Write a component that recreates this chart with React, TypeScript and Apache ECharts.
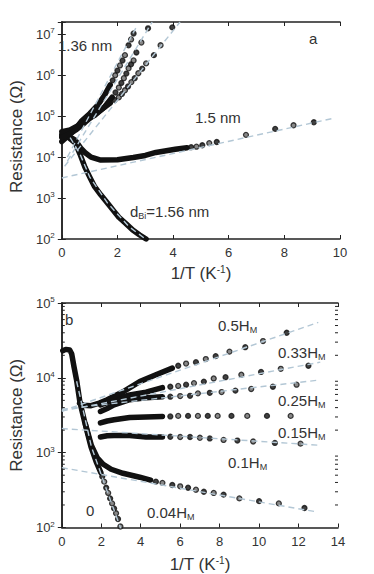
import React, { useEffect, useRef } from "react";
import * as echarts from "echarts";

type P = [number, number];

const FONT = "Liberation Sans";
const INK = "#222";
const FIT = "#b3c7d5";

// ---------- Panel a ----------
const aXTicks = [0, 2, 4, 6, 8, 10];
const aYMin = 100;
const aYMax = 2e7;

const a156Dense: P[] = [
  [0, 3.3e4], [0.25, 3.0e4], [0.49, 2.2e4], [0.65, 1.2e4], [0.83, 5.7e3], [1.0, 3.3e3],
  [1.18, 1.9e3], [1.4, 1.2e3], [1.64, 760], [1.85, 500], [2.05, 340], [2.3, 240],
  [2.55, 165], [2.8, 125], [3.03, 100],
];
const a156Fit: P[] = [[0.3, 3.0e4], [0.65, 1.2e4], [1.0, 3.3e3], [1.64, 760], [2.4, 205], [3.05, 95]];

const a15Dense: P[] = [
  [0, 3.6e4], [0.2, 3.4e4], [0.48, 2.6e4], [0.7, 1.6e4], [0.83, 1.3e4], [1.05, 1.0e4],
  [1.4, 8.5e3], [2.0, 8.6e3], [2.57, 9.8e3], [3.0, 1.1e4], [3.38, 1.3e4], [4.08, 1.55e4], [4.5, 1.7e4],
];
const a15Sparse: P[] = [
  [4.65, 1.75e4], [4.84, 1.8e4], [5.05, 1.95e4], [5.3, 2.2e4], [5.57, 2.34e4],
  [6.62, 3.5e4], [7.67, 4.9e4], [8.33, 6.0e4], [9.06, 7.1e4],
];
const a15Fit: P[] = [[0, 3.1e3], [9.8, 9.0e4]];

const aADense: P[] = [
  [0, 2.4e4], [0.2, 3.2e4], [0.45, 4.5e4], [0.7, 7.5e4], [1.01, 1.17e5], [1.29, 1.86e5],
  [1.53, 3.2e5], [1.74, 5.8e5],
];
const aASparse: P[] = [
  [1.83, 7.5e5], [1.92, 1.0e6], [2.0, 1.3e6], [2.09, 1.74e6], [2.18, 2.3e6], [2.27, 3.1e6],
  [2.4, 5.4e6], [2.49, 7.5e6], [2.58, 1.05e7],
];
const aAFit: P[] = [[0.2, 1.0e4], [2.7, 1.6e7]];

const aBDense: P[] = [
  [0, 4.2e4], [0.3, 4.6e4], [0.6, 6.0e4], [0.9, 8.2e4], [1.18, 1.05e5], [1.53, 1.66e5], [1.81, 2.9e5],
];
const aBSparse: P[] = [
  [1.93, 3.8e5], [2.05, 5.0e5], [2.14, 6.5e5], [2.23, 8.5e5], [2.32, 1.1e6], [2.4, 1.48e6],
  [2.49, 1.85e6], [2.58, 2.3e6], [2.68, 3.6e6], [2.86, 6.3e6], [3.1, 1.4e7],
];
const aBFit: P[] = [[0.2, 8e3], [3.25, 2e7]];

const aDDense: P[] = [
  [0, 3.0e4], [0.25, 3.6e4], [0.5, 4.6e4], [0.83, 7.0e4], [1.05, 9.5e4], [1.4, 1.41e5], [1.74, 2.1e5],
];
const aDSparse: P[] = [
  [1.9, 2.5e5], [2.05, 2.9e5], [2.16, 3.5e5], [2.27, 4.3e5], [2.38, 5.3e5], [2.5, 6.8e5],
  [2.62, 8.5e5], [2.75, 1.12e6], [2.89, 1.45e6], [3.03, 1.95e6], [3.31, 3.1e6], [3.55, 5.4e6],
  [3.97, 1.48e7],
];
const aDFit: P[] = [[0.1, 6e3], [4.25, 2e7]];

// ---------- Panel b ----------
const bXTicks = [0, 2, 4, 6, 8, 10, 12, 14];
const bYMin = 100;
const bYMax = 1e5;
const bMinorTicks = [
  200, 300, 400, 500, 600, 700, 800, 900,
  2000, 3000, 4000, 5000, 6000, 7000, 8000, 9000,
  20000, 30000, 40000, 50000, 60000, 70000, 80000, 90000,
];

const b0Dense: P[] = [
  [0.05, 2.3e4], [0.2, 2.4e4], [0.4, 2.35e4], [0.5, 2.1e4], [0.62, 1.4e4], [0.75, 9.3e3],
  [0.92, 4.7e3], [1.17, 2.5e3], [1.48, 1.2e3], [1.74, 760], [1.98, 540],
];
const b0Sparse: P[] = [
  [2.05, 480], [2.15, 410], [2.25, 340], [2.35, 290], [2.45, 245], [2.55, 210],
  [2.65, 180], [2.75, 155], [2.85, 130], [2.97, 103],
];
const b0Fit: P[] = [[0.75, 9e3], [1.5, 1.2e3], [2.2, 360], [3.0, 95]];

const b004Dense: P[] = [
  [1.2, 2.4e3], [1.5, 1.25e3], [1.8, 850], [2.1, 700], [2.5, 600], [3.1, 530], [3.95, 470], [4.5, 430],
];
const b004Sparse: P[] = [
  [4.77, 410], [5.1, 395], [5.6, 370], [6.0, 355], [6.4, 340], [6.8, 320], [7.2, 300],
  [7.7, 290], [8.2, 275], [9.0, 245], [10.0, 225], [11.0, 210], [12.3, 182],
];
const b004Fit: P[] = [[0, 630], [12.9, 162]];

const b01Dense: P[] = [
  [1.96, 1.62e3], [2.3, 1.68e3], [2.65, 1.7e3], [3.44, 1.7e3], [4.27, 1.62e3], [5.1, 1.62e3],
];
const b01Sparse: P[] = [
  [5.5, 1.63e3], [6.0, 1.62e3], [6.5, 1.62e3], [7.0, 1.58e3], [7.5, 1.55e3], [8.2, 1.48e3],
  [8.9, 1.45e3], [9.7, 1.41e3], [10.8, 1.35e3], [12.1, 1.32e3],
];
const b01Fit: P[] = [[0, 2.1e3], [13, 1.26e3]];

const b015Dense: P[] = [
  [1.96, 2.5e3], [2.3, 2.65e3], [2.65, 2.75e3], [3.44, 2.95e3], [4.27, 3.0e3], [5.1, 3.05e3],
];
const b015Sparse: P[] = [
  [5.5, 3.05e3], [5.9, 3.1e3], [6.4, 3.1e3], [6.9, 3.1e3], [7.4, 3.1e3], [7.9, 3.1e3],
  [8.6, 3.1e3], [9.4, 3.1e3], [10.4, 3.1e3], [11.6, 3.1e3],
];

const b025Dense: P[] = [
  [1.96, 3.55e3], [2.3, 3.9e3], [2.65, 4.35e3], [3.44, 5.1e3], [4.27, 5.4e3], [5.1, 5.6e3],
];
const b025Sparse: P[] = [
  [5.5, 5.6e3], [6.0, 5.7e3], [6.5, 5.75e3], [6.9, 6.2e3], [7.5, 6.3e3], [8.1, 6.45e3],
  [8.8, 6.75e3], [9.6, 7.1e3], [10.7, 7.6e3], [11.9, 8.1e3],
];
const b025Fit: P[] = [[0, 3.8e3], [13, 9.3e3]];

const b033Dense: P[] = [
  [1.96, 4.35e3], [2.3, 4.7e3], [2.65, 5.1e3], [3.44, 5.9e3], [4.27, 6.45e3], [5.1, 7.4e3],
];
const b033Sparse: P[] = [
  [5.5, 7.6e3], [5.9, 7.8e3], [6.3, 8.1e3], [6.7, 8.5e3], [7.2, 8.9e3], [7.7, 9.8e3],
  [8.3, 1.02e4], [9.1, 1.1e4], [10.1, 1.2e4], [11.1, 1.32e4], [12.5, 1.45e4],
];
const b033Fit: P[] = [[0, 3.6e3], [13.1, 1.62e4]];

const b05Dense: P[] = [
  [0.9, 4.6e3], [1.1, 4.3e3], [1.48, 4.25e3], [1.9, 4.6e3], [2.3, 5.1e3], [3.1, 6.5e3],
  [3.95, 8.9e3], [4.77, 1.1e4], [5.6, 1.35e4],
];
const b05Sparse: P[] = [
  [5.9, 1.45e4], [6.3, 1.55e4], [6.8, 1.62e4], [7.3, 1.78e4], [7.8, 1.95e4], [8.5, 2.24e4],
  [9.3, 2.57e4], [10.2, 3.1e4], [11.4, 4.0e4],
];
const b05Fit: P[] = [[0, 3.6e3], [13, 5.5e4]];

// ---------- helpers ----------
const pointColor = (p: any) => (p.dataIndex % 2 ? "#6a6a6a" : "#111");

function dense(data: P[], xi: number) {
  return {
    type: "line", data, xAxisIndex: xi, yAxisIndex: xi, showSymbol: false, symbol: "none",
    lineStyle: { color: "#111", width: 5.5, cap: "round", join: "round" }, z: 3, silent: true,
  };
}
function sparse(data: P[], xi: number) {
  return {
    type: "scatter", data, xAxisIndex: xi, yAxisIndex: xi, symbol: "circle", symbolSize: 5,
    itemStyle: { color: pointColor, borderColor: "#111", borderWidth: 1.3 }, z: 4, silent: true,
  };
}
function fit(data: P[], xi: number) {
  return {
    type: "line", data, xAxisIndex: xi, yAxisIndex: xi, showSymbol: false, symbol: "none",
    lineStyle: { color: FIT, width: 1.4, type: [6, 4] }, z: 5, silent: true,
  };
}

const labelRich = {
  a: { fontSize: 13, fontFamily: FONT, color: "#333" },
  b: { fontSize: 8, fontFamily: FONT, color: "#333", padding: [0, 0, 7, 0] },
};
const logFormatter = (v: number) => {
  const e = Math.log10(v);
  const r = Math.round(e);
  if (Math.abs(e - r) > 1e-6) return "";
  return `{a|10}{b|${r}}`;
};

const nameRich = {
  a: { fontSize: 17, fontFamily: FONT, color: "#333" },
  b: { fontSize: 10, fontFamily: FONT, color: "#333", padding: [0, 0, 8, 0] },
};

function xAxes(ticks: number[], gi: number, nameGap: number) {
  const base = {
    type: "value", gridIndex: gi, min: ticks[0], max: ticks[ticks.length - 1],
    interval: ticks[1] - ticks[0], splitLine: { show: false },
    axisLine: { show: true, onZero: false, lineStyle: { color: INK, width: 1.5 } },
    axisTick: { show: true, inside: true, length: 4, lineStyle: { color: INK } },
  };
  return [
    {
      ...base, position: "bottom",
      axisLabel: { show: true, margin: 7, fontSize: 13, fontFamily: FONT, color: "#333" },
      name: "{a|1/T (K}{b|-1}{a|)}", nameLocation: "middle", nameGap,
      nameTextStyle: { rich: nameRich },
    },
    { ...base, position: "top", axisLabel: { show: false } },
  ];
}
function yAxes(min: number, max: number, gi: number, namePad: number[]) {
  const base = {
    type: "log", logBase: 10, gridIndex: gi, min, max, splitLine: { show: false },
    axisLine: { show: true, lineStyle: { color: INK, width: 1.5 } },
    axisTick: { show: true, inside: true, length: 4, lineStyle: { color: INK } },
    minorTick: { show: false },
  };
  return [
    {
      ...base, position: "left",
      axisLabel: { show: true, margin: 7, formatter: logFormatter, rich: labelRich },
      name: "Resistance (Ω)", nameLocation: "middle", nameGap: 34, nameRotate: 90,
      nameTextStyle: { fontSize: 17, fontFamily: FONT, color: "#333", padding: namePad },
    },
    { ...base, position: "right", axisLabel: { show: false } },
  ];
}

const annRich = {
  a: { fontSize: 15, fontFamily: FONT, fill: "#333" },
  s: { fontSize: 9, fontFamily: FONT, fill: "#333", padding: [10, 0, 0, 0] },
};
function ann(text: string, x: number, y: number) {
  return {
    type: "text", x, y, z: 100, silent: true,
    style: { text, rich: annRich, fontSize: 15, fontFamily: FONT, fill: "#333", verticalAlign: "middle", align: "left" },
  };
}

export default function App() {
  const ref = useRef<HTMLDivElement>(null);
  useEffect(() => {
    document.body.style.margin = "0";
    if (!ref.current) return;
    const chart = echarts.init(ref.current, undefined, { renderer: "svg" });
    const option: any = {
      animation: false,
      backgroundColor: "#fff",
      grid: [
        { left: 53, top: 22, width: 287, height: 217 },
        { left: 53, top: 303, width: 285, height: 225 },
      ],
      xAxis: [...xAxes(aXTicks, 0, 25), ...xAxes(bXTicks, 1, 28)],
      yAxis: [...yAxes(aYMin, aYMax, 0, [0, 12, 0, 0]), ...yAxes(bYMin, bYMax, 1, [0, 0, 0, 0])],
      series: [
        dense(a156Dense, 0), fit(a156Fit, 0),
        dense(a15Dense, 0), sparse(a15Sparse, 0), fit(a15Fit, 0),
        dense(aADense, 0), sparse(aASparse, 0), fit(aAFit, 0),
        dense(aBDense, 0), sparse(aBSparse, 0), fit(aBFit, 0),
        dense(aDDense, 0), sparse(aDSparse, 0), fit(aDFit, 0),
        dense(b0Dense, 2), sparse(b0Sparse, 2), fit(b0Fit, 2),
        dense(b004Dense, 2), sparse(b004Sparse, 2), fit(b004Fit, 2),
        dense(b01Dense, 2), sparse(b01Sparse, 2), fit(b01Fit, 2),
        dense(b015Dense, 2), sparse(b015Sparse, 2),
        dense(b025Dense, 2), sparse(b025Sparse, 2), fit(b025Fit, 2),
        dense(b033Dense, 2), sparse(b033Sparse, 2), fit(b033Fit, 2),
        dense(b05Dense, 2), sparse(b05Sparse, 2), fit(b05Fit, 2),
        {
          type: "custom", xAxisIndex: 2, yAxisIndex: 2, silent: true, clip: false, z: 6,
          data: bMinorTicks.map((v) => [bXTicks[0], v]),
          renderItem: (_p: any, api: any) => {
            const v = api.value(1);
            const l = api.coord([bXTicks[0], v]);
            const r = api.coord([bXTicks[bXTicks.length - 1], v]);
            return {
              type: "group",
              children: [
                { type: "line", shape: { x1: l[0], y1: l[1], x2: l[0] + 3, y2: l[1] }, style: { stroke: INK, lineWidth: 1 } },
                { type: "line", shape: { x1: r[0] - 3, y1: r[1], x2: r[0], y2: r[1] }, style: { stroke: INK, lineWidth: 1 } },
              ],
            };
          },
        },
      ],
      graphic: [
        ann("{a|a}", 309, 38),
        ann("{a|1.36 nm}", 58, 45),
        ann("{a|1.5 nm}", 195, 117),
        ann("{a|d}{s|Bi}{a|=1.56 nm}", 130, 211),
        ann("{a|b}", 65, 319),
        ann("{a|0.5H}{s|M}", 218, 325),
        ann("{a|0.33H}{s|M}", 278, 352),
        ann("{a|0.25H}{s|M}", 278, 400),
        ann("{a|0.15H}{s|M}", 278, 432),
        ann("{a|0.1H}{s|M}", 228, 462),
        ann("{a|0.04H}{s|M}", 147, 512),
        ann("{a|0}", 86, 510),
      ],
    };
    chart.setOption(option);
    return () => chart.dispose();
  }, []);
  return <div ref={ref} style={{ width: 374, height: 574 }} />;
}
